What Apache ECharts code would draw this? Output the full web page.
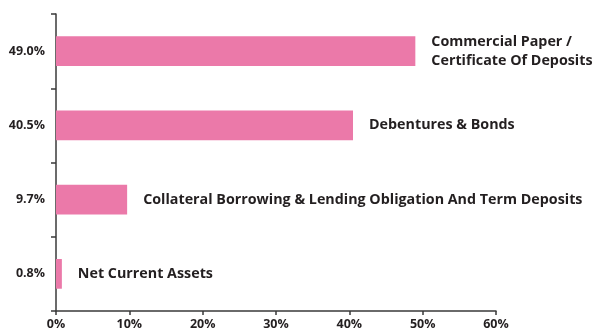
<!DOCTYPE html>
<html>
<head>
<meta charset="utf-8">
<script src="https://cdn.jsdelivr.net/npm/echarts@6/dist/echarts.min.js"></script>
<style>
  html, body { margin: 0; padding: 0; background: #fff; }
  #chart { width: 598px; height: 333px; }
</style>
</head>
<body>
<div id="chart"></div>
<script>
// Portfolio allocation by instrument type (% of net assets), bottom to top
const categories = [
  'Net Current Assets',
  'Collateral Borrowing & Lending Obligation And Term Deposits',
  'Debentures & Bonds',
  'Commercial Paper /\nCertificate Of Deposits'
];
const values = [0.8, 9.7, 40.5, 49.0];
const valueLabels = ['0.8%', '9.7%', '40.5%', '49.0%'];
const xTicks = [0, 10, 20, 30, 40, 50, 60];

const textColor = '#231f20';
const fontFamily = '"Open Sans", "Noto Sans", sans-serif';

const chart = echarts.init(document.getElementById('chart'), null, { renderer: 'canvas' });
chart.setOption({
  animation: false,
  grid: { left: 56, right: 102, top: 14, bottom: 22, containLabel: false },
  xAxis: {
    type: 'value',
    min: xTicks[0],
    max: xTicks[xTicks.length - 1],
    interval: 10,
    axisLine: { show: true, lineStyle: { color: '#3a3a3a', width: 1.5 } },
    axisTick: { show: true, length: 4, lineStyle: { color: '#3a3a3a', width: 1.5 } },
    splitLine: { show: false },
    axisLabel: {
      formatter: v => v + '%',
      color: textColor, fontWeight: 'bold', fontSize: 12.5, fontFamily, margin: 7
    }
  },
  yAxis: {
    type: 'category',
    data: valueLabels,
    axisLine: { show: true, lineStyle: { color: '#3a3a3a', width: 1.5 } },
    axisTick: { show: true, length: 5, lineStyle: { color: '#3a3a3a', width: 1.5 } },
    axisLabel: {
      color: textColor, fontWeight: 'bold', fontSize: 12.5, fontFamily, margin: 11
    }
  },
  series: [{
    type: 'bar',
    data: values,
    barWidth: '40%',
    itemStyle: { color: '#eb79a9' },
    label: {
      show: true,
      position: 'right',
      distance: 16,
      formatter: p => categories[p.dataIndex],
      color: textColor,
      fontWeight: 'bold',
      fontSize: 14.3,
      lineHeight: 19,
      fontFamily
    }
  }]
});
</script>
</body>
</html>
